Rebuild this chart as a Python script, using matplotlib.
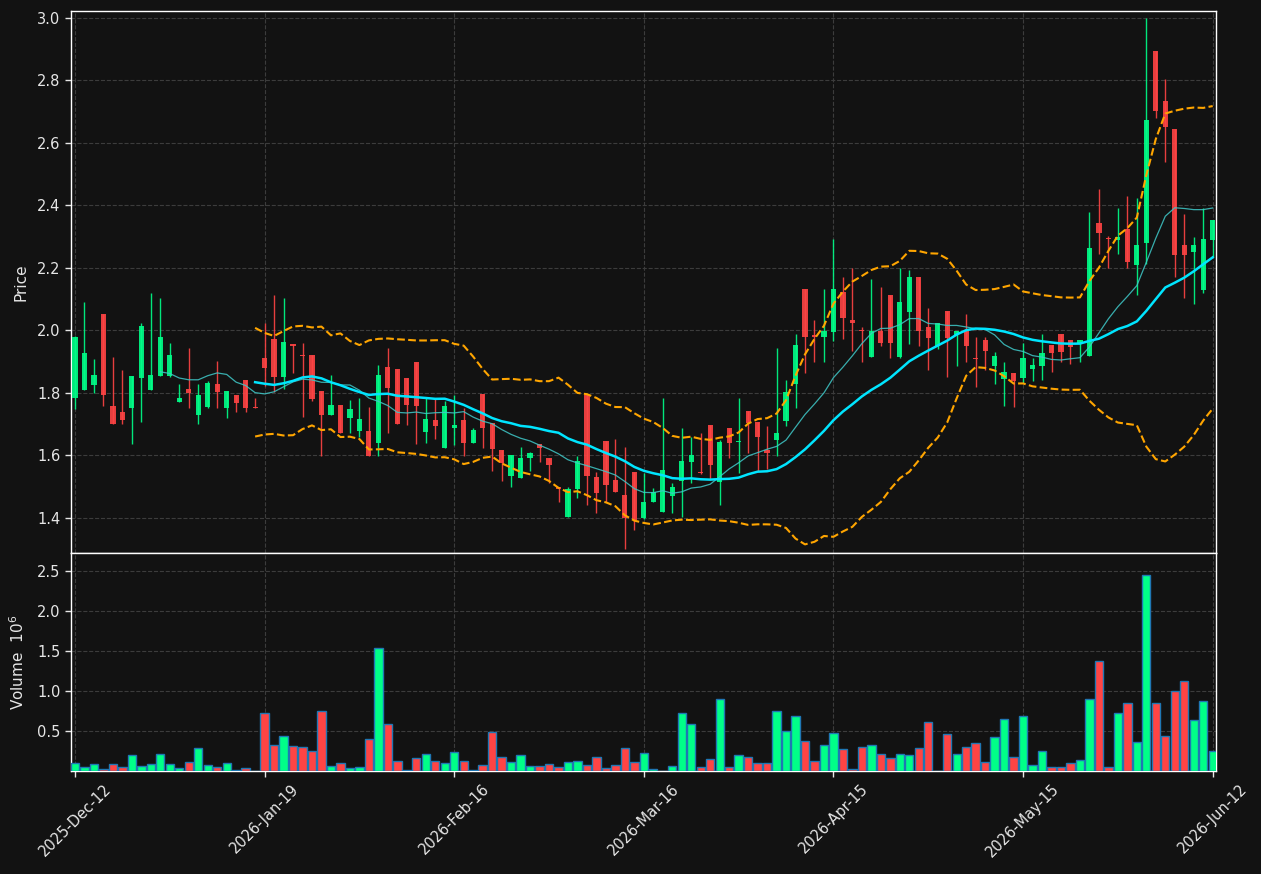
import numpy as np
import pandas as pd
import matplotlib
matplotlib.use("Agg")
import matplotlib.pyplot as plt

# ---------------- data ----------------
opens = [1.784, 1.809, 1.825, 2.051, 1.757, 1.737, 1.749, 1.845, 1.809, 1.854,
         1.854, 1.770, 1.811, 1.729, 1.753, 1.827, 1.749, 1.792, 1.840, 1.752,
         1.911, 1.971, 1.850, 1.954, 1.919, 1.920, 1.805, 1.729, 1.760, 1.720,
         1.678, 1.677, 1.640, 1.881, 1.874, 1.847, 1.897, 1.674, 1.712, 1.624,
         1.685, 1.712, 1.640, 1.795, 1.703, 1.616, 1.534, 1.528, 1.589, 1.634,
         1.591, 1.497, 1.402, 1.491, 1.792, 1.529, 1.645, 1.520, 1.472, 1.545,
         1.400, 1.449, 1.417, 1.469, 1.518, 1.577, 1.545, 1.696, 1.514, 1.686,
         1.642, 1.741, 1.705, 1.617, 1.649, 1.709, 1.826, 2.131, 1.985, 1.977,
         1.994, 2.122, 2.032, 2.000, 1.914, 1.997, 2.112, 1.914, 2.057, 2.171,
         2.011, 1.949, 2.061, 1.983, 1.998, 1.910, 1.968, 1.886, 1.842, 1.863,
         1.846, 1.874, 1.886, 1.952, 1.986, 1.969, 1.954, 1.918, 2.343, 2.293,
         2.289, 2.322, 2.209, 2.280, 2.894, 2.734, 2.643, 2.272, 2.249, 2.128,
         2.289]
highs = [1.980, 2.091, 1.906, 2.051, 1.915, 1.872, 1.853, 2.022, 2.120, 2.102,
         1.960, 1.826, 1.942, 1.826, 1.837, 1.900, 1.805, 1.792, 1.840, 1.782,
         2.022, 2.111, 2.102, 1.954, 1.960, 1.920, 1.805, 1.855, 1.760, 1.775,
         1.782, 1.754, 1.887, 1.944, 1.874, 1.847, 1.897, 1.782, 1.782, 1.774,
         1.791, 1.749, 1.688, 1.795, 1.703, 1.616, 1.600, 1.625, 1.611, 1.634,
         1.591, 1.499, 1.499, 1.597, 1.792, 1.545, 1.645, 1.651, 1.625, 1.545,
         1.543, 1.495, 1.784, 1.509, 1.688, 1.657, 1.669, 1.696, 1.648, 1.686,
         1.784, 1.741, 1.705, 1.694, 1.944, 1.840, 1.986, 2.131, 2.031, 2.131,
         2.291, 2.171, 2.200, 2.011, 2.162, 2.139, 2.112, 2.200, 2.191, 2.171,
         2.071, 2.021, 2.061, 1.998, 2.051, 1.979, 1.979, 1.931, 1.897, 1.863,
         1.960, 1.909, 1.986, 1.952, 1.986, 1.969, 1.969, 2.379, 2.450, 2.301,
         2.390, 2.429, 2.421, 3.000, 2.894, 2.802, 2.643, 2.371, 2.299, 2.392,
         2.352]
lows = [1.747, 1.809, 1.800, 1.758, 1.700, 1.700, 1.634, 1.705, 1.809, 1.854,
        1.851, 1.770, 1.749, 1.700, 1.749, 1.749, 1.720, 1.739, 1.739, 1.749,
        1.820, 1.802, 1.811, 1.862, 1.723, 1.774, 1.598, 1.729, 1.669, 1.669,
        1.657, 1.598, 1.598, 1.669, 1.700, 1.695, 1.634, 1.640, 1.651, 1.624,
        1.632, 1.598, 1.640, 1.623, 1.550, 1.518, 1.499, 1.528, 1.549, 1.579,
        1.509, 1.449, 1.402, 1.461, 1.440, 1.415, 1.451, 1.482, 1.299, 1.360,
        1.394, 1.449, 1.417, 1.414, 1.403, 1.509, 1.540, 1.520, 1.440, 1.589,
        1.543, 1.606, 1.549, 1.554, 1.598, 1.694, 1.751, 1.863, 1.899, 1.899,
        1.966, 1.971, 1.934, 1.899, 1.914, 1.949, 1.909, 1.909, 1.954, 1.949,
        1.871, 1.940, 1.851, 1.886, 1.899, 1.817, 1.872, 1.826, 1.758, 1.754,
        1.829, 1.838, 1.840, 1.865, 1.899, 1.891, 1.899, 1.918, 2.243, 2.200,
        2.243, 2.200, 2.111, 2.211, 2.680, 2.539, 2.171, 2.103, 2.082, 2.120,
        2.234]
closes = [1.977, 1.927, 1.856, 1.793, 1.700, 1.713, 1.853, 2.013, 1.856, 1.977,
          1.920, 1.783, 1.800, 1.792, 1.831, 1.802, 1.805, 1.765, 1.749, 1.749,
          1.880, 1.850, 1.961, 1.949, 1.917, 1.779, 1.729, 1.760, 1.669, 1.746,
          1.714, 1.598, 1.855, 1.815, 1.700, 1.760, 1.757, 1.714, 1.694, 1.757,
          1.696, 1.640, 1.680, 1.685, 1.619, 1.575, 1.600, 1.591, 1.607, 1.621,
          1.569, 1.490, 1.491, 1.581, 1.534, 1.480, 1.505, 1.482, 1.400, 1.391,
          1.449, 1.483, 1.552, 1.499, 1.581, 1.600, 1.541, 1.569, 1.641, 1.640,
          1.645, 1.703, 1.657, 1.608, 1.671, 1.803, 1.952, 1.977, 1.977, 1.997,
          2.131, 2.040, 2.021, 1.997, 1.998, 1.960, 1.960, 2.091, 2.171, 1.998,
          1.975, 2.021, 1.975, 1.998, 1.949, 1.906, 1.934, 1.917, 1.865, 1.838,
          1.911, 1.888, 1.926, 1.925, 1.931, 1.945, 1.969, 2.263, 2.309, 2.291,
          2.299, 2.217, 2.272, 2.672, 2.701, 2.649, 2.240, 2.240, 2.272, 2.291,
          2.352]
volumes = [0.096, 0.046, 0.083, 0.030, 0.083, 0.046, 0.195, 0.058, 0.083, 0.208,
           0.083, 0.033, 0.108, 0.283, 0.071, 0.046, 0.096, 0.008, 0.033, 0.002,
           0.719, 0.324, 0.432, 0.308, 0.295, 0.245, 0.744, 0.058, 0.096, 0.033,
           0.046, 0.395, 1.542, 0.582, 0.120, 0.008, 0.158, 0.208, 0.120, 0.096,
           0.233, 0.120, 0.008, 0.071, 0.482, 0.170, 0.108, 0.195, 0.058, 0.058,
           0.083, 0.046, 0.108, 0.120, 0.071, 0.170, 0.033, 0.071, 0.283, 0.108,
           0.220, 0.020, 0.005, 0.058, 0.731, 0.582, 0.046, 0.145, 0.906, 0.046,
           0.195, 0.170, 0.096, 0.096, 0.744, 0.495, 0.682, 0.370, 0.120, 0.320,
           0.470, 0.270, 0.020, 0.295, 0.320, 0.208, 0.158, 0.208, 0.195, 0.283,
           0.607, 0.005, 0.457, 0.208, 0.295, 0.345, 0.108, 0.420, 0.644, 0.170,
           0.682, 0.071, 0.245, 0.046, 0.046, 0.096, 0.133, 0.906, 1.380, 0.046,
           0.731, 0.844, 0.357, 2.452, 0.856, 0.432, 1.006, 1.130, 0.632, 0.869,
           0.245]
tick_labels = ["2025-Dec-12", "2026-Jan-19", "2026-Feb-16", "2026-Mar-16",
               "2026-Apr-15", "2026-May-15", "2026-Jun-12"]

# ---------------- styling ----------------
BG = "#121212"
UP = "#00ff88"
DOWN = "#ff4444"
TXT = "#e6e6e6"
GRID = "#3c3c3c"

n = len(closes)
x = np.arange(n)
o = np.array(opens)
h = np.array(highs)
l = np.array(lows)
c = np.array(closes)
v = np.array(volumes)

cs = pd.Series(c)
ma10 = cs.rolling(10).mean()
ma20 = cs.rolling(20).mean()
sd20 = cs.rolling(20).std(ddof=0)
bb_up = ma20 + 2 * sd20
bb_lo = ma20 - 2 * sd20

up_mask = c >= o
col = np.where(up_mask, UP, DOWN)

fig = plt.figure(figsize=(12.61, 8.74), dpi=100, facecolor=BG)
L, R = 71 / 1261, 1216 / 1261
ax = fig.add_axes([L, 1 - 553 / 874, R - L, (553 - 11) / 874])
axv = fig.add_axes([L, 1 - 771 / 874, R - L, (771 - 553) / 874], sharex=ax)

for a in (ax, axv):
    a.set_facecolor(BG)
    for s in a.spines.values():
        s.set_color("white")
        s.set_linewidth(1.0)
    a.tick_params(colors=TXT, labelsize=10.5, length=4, width=1)
    a.grid(True, color=GRID, linestyle="--", linewidth=0.8)
    a.set_axisbelow(True)

# candles
ax.vlines(x, l, h, colors=col, linewidth=1.0, alpha=0.9, zorder=2)
body_h = np.maximum(np.abs(c - o), 0.004)
ax.bar(x, body_h, bottom=np.minimum(o, c), width=0.55, color=col,
       alpha=0.9, linewidth=0, zorder=3)

# indicators
ax.plot(x, ma10, color="#3fc9c9", linewidth=0.9, alpha=0.85, zorder=4)
ax.plot(x, ma20, color="#00e5ff", linewidth=1.8, zorder=5)
ax.plot(x, bb_up, color="#ffa500", linewidth=1.5, linestyle="--", zorder=4)
ax.plot(x, bb_lo, color="#ffa500", linewidth=1.5, linestyle="--", zorder=4)

ax.set_ylim(1.2864, 3.021)
ax.set_yticks(np.arange(1.4, 3.01, 0.2))
ax.set_ylabel("Price", color=TXT, fontsize=11)
ax.tick_params(axis="x", labelbottom=False, length=0)

# volume
axv.bar(x, v, width=0.88, color=col, edgecolor="#1f77b4", linewidth=1.0, zorder=3)
axv.set_ylim(0, 2.725)
axv.set_yticks([0.5, 1.0, 1.5, 2.0, 2.5])
axv.set_ylabel("Volume  $10^{6}$", color=TXT, fontsize=11)

ax.set_xlim(-0.42, n - 1 + 0.35)
tick_pos = np.arange(0, n, 20)
axv.set_xticks(tick_pos)
axv.set_xticklabels(tick_labels, rotation=45, ha="center")

ax.yaxis.set_label_coords(-0.037, 0.5)
axv.yaxis.set_label_coords(-0.038, 0.5)

fig.savefig("out.png", dpi=100, facecolor=BG)
